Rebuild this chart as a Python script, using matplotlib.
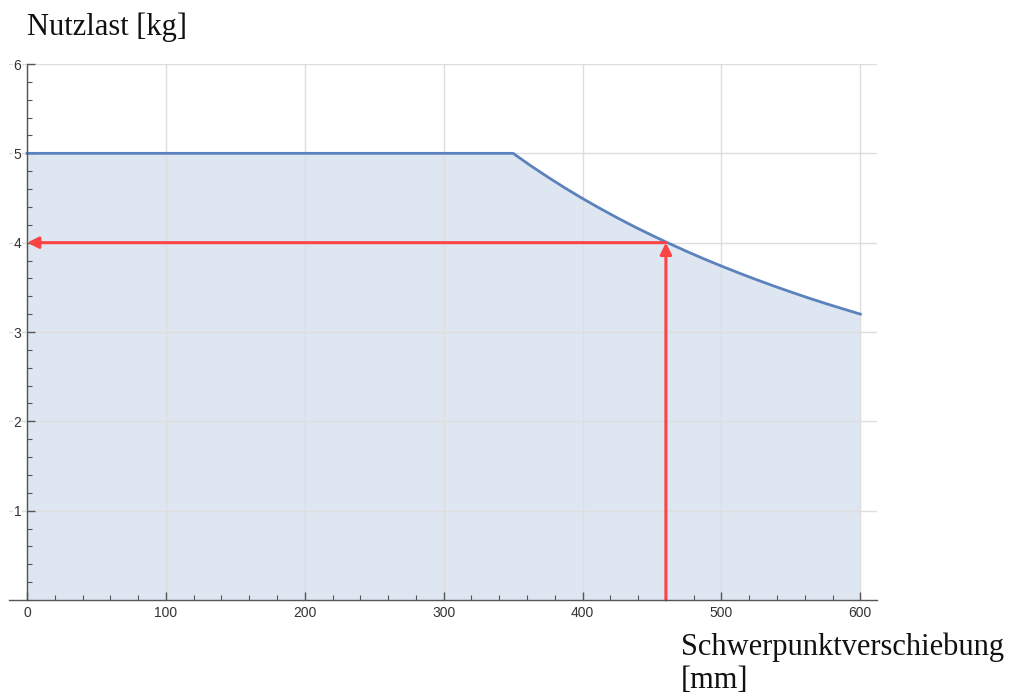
import matplotlib
matplotlib.use("Agg")
import matplotlib.pyplot as plt
from matplotlib.ticker import MultipleLocator

# payload curve
offset_mm = [0, 350, 362.5, 375, 387.5, 400, 412.5, 425, 437.5, 450, 460, 475,
             487.5, 500, 512.5, 525, 537.5, 550, 562.5, 575, 587.5, 600]
payload_kg = [5.0, 5.0, 4.863, 4.734, 4.611, 4.494, 4.384, 4.278, 4.177, 4.082, 4.008, 3.902,
              3.818, 3.738, 3.661, 3.587, 3.516, 3.448, 3.382, 3.319, 3.259, 3.200]

# reading example marked with red arrows
mark_x = 460
mark_y = 4.0

x_ticks = [0, 100, 200, 300, 400, 500, 600]
y_ticks = [1, 2, 3, 4, 5, 6]

line_color = "#5b82bd"
arrow_color = "#fb4444"
grid_color = "#dedede"
axis_color = "#555555"

fig = plt.figure(figsize=(10.09, 6.96), dpi=100)
ax = fig.add_axes([9 / 1009, 96 / 696, 868 / 1009, 536 / 696])

ax.fill_between(offset_mm, payload_kg, 0, color=line_color, alpha=0.2, lw=0, zorder=1)
ax.plot(offset_mm, payload_kg, color=line_color, lw=2.0, zorder=3)

ax.annotate("", xy=(0, mark_y), xytext=(mark_x, mark_y),
            arrowprops=dict(arrowstyle="-|>", color=arrow_color, lw=2.2,
                            mutation_scale=17, shrinkA=0, shrinkB=0), zorder=4)
ax.annotate("", xy=(mark_x, mark_y), xytext=(mark_x, 0),
            arrowprops=dict(arrowstyle="-|>", color=arrow_color, lw=2.2,
                            mutation_scale=17, shrinkA=0, shrinkB=0), zorder=4)

ax.set_xlim(-13, 612)
ax.set_ylim(0, 6)

for side in ["top", "right"]:
    ax.spines[side].set_visible(False)
ax.spines["left"].set_position(("data", 0))
ax.spines["bottom"].set_position(("data", 0))
for side in ["left", "bottom"]:
    ax.spines[side].set_color(axis_color)
    ax.spines[side].set_linewidth(1.0)
    ax.spines[side].set_zorder(5)

ax.set_xticks(x_ticks)
ax.set_yticks(y_ticks)
ax.xaxis.set_minor_locator(MultipleLocator(20))
ax.yaxis.set_minor_locator(MultipleLocator(0.2))
ax.tick_params(which="major", direction="in", length=6, width=1, color=axis_color,
               labelsize=10, labelcolor="#333333", pad=4)
ax.tick_params(which="minor", direction="in", length=3.5, width=0.8, color=axis_color)
for lbl in ax.get_xticklabels() + ax.get_yticklabels():
    lbl.set_family("Liberation Sans")

ax.grid(True, which="major", color=grid_color, lw=1.0)
ax.set_axisbelow(False)
ax.set_facecolor("none")

for lbl in ax.get_yticklabels():
    lbl.set_bbox(dict(facecolor="white", edgecolor="none", pad=0.5))

fig.text(27 / 1009, 1 - 27 / 696, "Nutzlast [kg]", family="Liberation Serif",
         fontsize=22, va="center", ha="left", color="#111111")
fig.text(681 / 1009, 1 - 664 / 696, "Schwerpunktverschiebung\n[mm]",
         family="Liberation Serif", fontsize=22, va="center", ha="left",
         color="#111111", linespacing=1.18)

fig.savefig("out.png", dpi=100)
